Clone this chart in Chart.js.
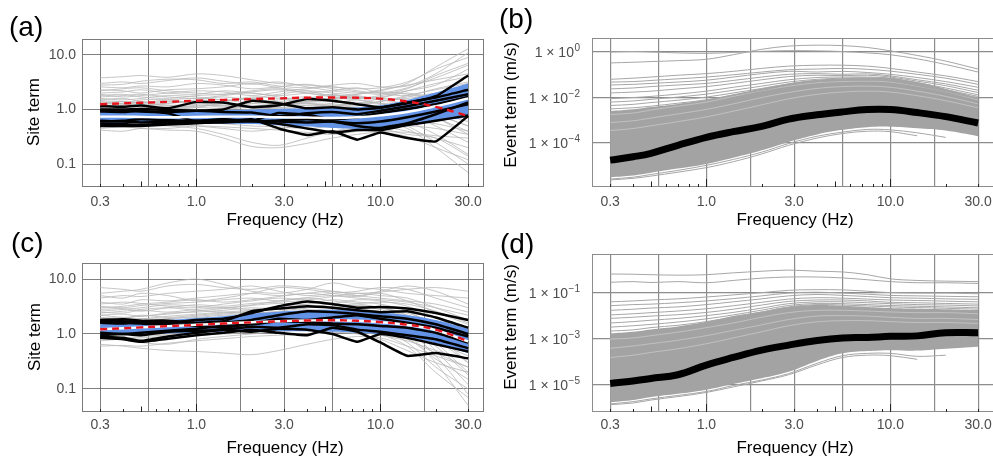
<!DOCTYPE html>
<html lang="en">
<head>
<meta charset="UTF-8">
<title>Site and event terms</title>
<script src="https://cdn.jsdelivr.net/npm/chart.js"></script>
<style>
    body {
        margin: 0;
        width: 993px;
        height: 457px;
        overflow: hidden;
        position: relative;
        background: #fff;
        font-family: 'Liberation Sans', Arial, sans-serif;
    }
    canvas { position: absolute; }
    .tag {
        position: absolute;
        font-size: 28px;
        line-height: 28px;
        color: #000;
    }
    .axt {
        position: absolute;
        font-size: 17px;
        line-height: 17px;
        color: #000;
        white-space: nowrap;
        transform: translate(-50%, -50%);
    }
    .axt.rot { transform: translate(-50%, -50%) rotate(-90deg); }
</style>
</head>
<body>
<canvas id="pa" width="500" height="228" style="left:0;top:0"></canvas>
<canvas id="pb" width="500" height="228" style="left:500px;top:0"></canvas>
<canvas id="pc" width="500" height="229" style="left:0;top:228px"></canvas>
<canvas id="pd" width="500" height="229" style="left:500px;top:228px"></canvas>

<div class="tag" style="left:9px;top:13px">(a)</div>
<div class="tag" style="left:499px;top:5px">(b)</div>
<div class="tag" style="left:11px;top:229px">(c)</div>
<div class="tag" style="left:500px;top:230px">(d)</div>

<div class="axt rot" style="left:33px;top:112px">Site term</div>
<div class="axt rot" style="left:510px;top:105px">Event term (m/s)</div>
<div class="axt rot" style="left:34px;top:337px">Site term</div>
<div class="axt rot" style="left:510px;top:327px">Event term (m/s)</div>
<div class="axt" style="left:285px;top:219px">Frequency (Hz)</div>
<div class="axt" style="left:795px;top:219px">Frequency (Hz)</div>
<div class="axt" style="left:285px;top:447px">Frequency (Hz)</div>
<div class="axt" style="left:795px;top:447px">Frequency (Hz)</div>

<script>
// frequencies (Hz) at which every curve is read
const freqs = [0.3, 0.4, 0.5, 0.7, 1.0, 1.4, 2.0, 2.8, 4.0, 5.5, 7.5, 10, 14, 20, 30];

// axis breaks
const xTickVals = [0.3, 1, 3, 10, 30];
const xTickLabels = ['0.3', '1.0', '3.0', '10.0', '30.0'];
const xGridVals = [0.3, 0.548, 1, 1.73, 3, 5.48, 10, 17.3, 30];
const logTickVals = [0.3, 0.4, 0.5, 0.6, 0.7, 0.8, 0.9, 1, 2, 3, 4, 5, 6, 7, 8, 9, 10, 20, 30];
const siteTickVals = [0.1, 1, 10];
const siteTickLabels = ['0.1', '1.0', '10.0'];
const eventTickBase = '1 × 10';
const eventB_tickVals = [-4, -2, 0];          // log10 (m/s)
const eventB_tickExp = ['−4', '−2', '0'];
const eventD_tickVals = [-5, -3, -1];
const eventD_tickExp = ['−5', '−3', '−1'];

// ---- (a) site terms ----
const siteA_grey = [
    [3.8,4.0,4.2,3.9,4.5,4.2,3.5,3.0,2.8,2.6,2.4,2.5,3.2,5.5,9.0],
    [3.0,3.2,3.0,3.4,3.8,3.3,2.9,3.2,2.6,2.2,2.0,2.2,3.0,6.0,13.0],
    [2.6,2.5,2.7,2.6,3.0,2.8,2.4,2.6,2.9,2.4,2.1,1.9,2.4,4.2,7.0],
    [2.3,2.2,2.0,2.3,2.4,2.6,3.0,2.5,2.2,1.8,1.9,2.3,2.8,3.5,4.5],
    [2.0,2.1,2.3,2.0,1.9,2.2,2.0,1.8,2.0,2.2,2.5,2.0,1.8,2.4,3.2],
    [1.8,1.9,1.7,1.6,1.8,1.9,2.2,2.4,2.0,1.7,1.6,1.8,2.2,2.8,5.5],
    [1.6,1.5,1.6,1.8,1.7,1.5,1.6,1.9,2.2,2.0,1.8,1.5,1.6,1.9,2.4],
    [1.5,1.6,1.4,1.3,1.5,1.7,1.5,1.4,1.6,1.9,1.6,1.7,2.0,1.6,1.3],
    [1.4,1.3,1.5,1.5,1.3,1.4,1.7,1.6,1.4,1.5,1.7,1.5,1.3,1.2,0.9],
    [1.3,1.4,1.2,1.3,1.4,1.2,1.3,1.5,1.7,1.4,1.3,1.4,1.8,2.3,3.0],
    [1.2,1.1,1.25,1.2,1.1,1.3,1.2,1.1,1.2,1.3,1.5,1.3,1.1,0.8,0.5],
    [1.1,1.2,1.1,1.0,1.2,1.1,1.0,1.2,1.3,1.1,1.0,1.2,1.0,0.7,0.4],
    [1.0,0.95,1.05,1.1,1.0,0.9,1.0,1.1,0.95,1.0,1.1,1.0,0.8,0.5,0.25],
    [0.9,0.92,0.85,0.9,0.95,1.0,0.9,0.85,0.9,0.95,0.85,0.8,0.6,0.35,0.15],
    [0.85,0.8,0.88,0.8,0.75,0.8,0.85,0.9,0.8,0.75,0.8,0.7,0.5,0.25,0.1],
    [0.75,0.78,0.7,0.72,0.8,0.75,0.7,0.65,0.7,0.8,0.7,0.6,0.45,0.2,0.07],
    [0.7,0.65,0.68,0.75,0.7,0.6,0.55,0.6,0.65,0.6,0.55,0.5,0.4,0.3,0.2],
    [0.6,0.62,0.6,0.55,0.5,0.45,0.4,0.45,0.5,0.55,0.5,0.45,0.35,0.3,0.14],
    [0.55,0.5,0.52,0.5,0.45,0.35,0.25,0.22,0.3,0.4,0.45,0.4,0.38,0.33,0.3],
    [0.45,0.48,0.45,0.42,0.4,0.3,0.21,0.2,0.24,0.3,0.35,0.38,0.32,0.2,0.12],
    [0.42,0.4,0.45,0.45,0.5,0.48,0.45,0.42,0.38,0.35,0.4,0.45,0.5,0.45,0.35],
    [2.8,2.9,3.3,3.6,3.5,3.0,3.2,2.7,2.5,2.8,3.0,2.6,2.7,4.5,11.0],
    [1.9,1.7,1.8,2.0,2.2,2.1,1.8,2.1,2.4,2.6,2.2,2.0,2.5,3.8,6.5],
    [1.25,1.3,1.35,1.2,1.25,1.4,1.6,1.3,1.2,1.2,1.3,1.6,2.2,3.0,4.0],
    [0.95,1.0,0.95,0.9,0.85,0.9,1.0,1.05,1.1,1.2,1.25,1.4,1.7,2.0,2.6],
    [0.65,0.7,0.75,0.7,0.65,0.7,0.75,0.8,0.85,0.9,0.95,1.0,1.2,1.5,2.0],
    [0.5,0.55,0.6,0.62,0.58,0.55,0.5,0.48,0.45,0.5,0.6,0.7,0.8,0.95,1.1],
    [1.7,1.8,1.9,1.7,1.6,1.8,2.0,1.7,1.5,1.6,1.9,2.1,1.9,1.5,1.1],
    [1.45,1.4,1.35,1.5,1.6,1.5,1.3,1.25,1.4,1.6,1.5,1.3,1.4,1.7,2.2],
    [1.15,1.2,1.3,1.4,1.3,1.15,1.1,1.2,1.3,1.2,1.1,1.05,1.2,1.1,0.7],
    [1.05,1.0,0.95,1.05,1.15,1.2,1.1,1.0,0.9,0.95,1.05,1.15,1.3,1.6,1.9],
    [0.8,0.85,0.9,0.95,0.9,0.85,0.8,0.75,0.7,0.72,0.8,0.9,0.95,0.8,0.5],
    [0.7,0.72,0.68,0.62,0.6,0.65,0.7,0.72,0.75,0.7,0.65,0.72,0.9,1.2,1.7],
    [0.62,0.58,0.55,0.58,0.65,0.7,0.62,0.55,0.52,0.5,0.48,0.52,0.6,0.55,0.4],
    [2.2,2.4,2.5,2.2,2.0,1.9,2.1,2.3,2.0,1.8,1.7,1.6,1.5,1.4,1.2],
    [1.3,1.25,1.2,1.15,1.1,1.05,1.15,1.25,1.35,1.4,1.35,1.25,1.15,0.9,0.6],
    [0.92,0.95,1.0,1.05,1.0,0.95,0.9,0.95,1.05,1.15,1.2,1.1,1.0,0.7,0.35]
];
const siteA_black = [
    [1.15,1.12,1.18,1.05,1.38,1.35,1.1,1.2,1.55,1.45,1.25,1.1,1.3,1.75,4.2],
    [1.0,0.98,0.92,0.9,0.95,1.0,1.45,1.3,1.05,1.1,1.0,1.08,1.35,1.65,2.3],
    [0.97,1.0,1.02,0.98,0.95,0.9,0.88,0.75,0.85,0.9,0.82,0.95,1.15,1.45,1.9],
    [0.62,0.6,0.58,0.6,0.62,0.65,0.62,0.55,0.45,0.38,0.42,0.42,0.52,0.62,0.78],
    [0.55,0.54,0.52,0.56,0.57,0.6,0.66,0.45,0.34,0.4,0.28,0.38,0.3,0.26,0.76],
    [0.5,0.5,0.5,0.53,0.56,0.6,0.63,0.6,0.58,0.6,0.56,0.6,0.72,0.92,1.25],
    [0.6,0.62,0.66,0.64,0.62,0.66,0.6,0.63,0.66,0.6,0.5,0.46,0.56,0.82,1.35],
    [0.92,0.9,0.95,0.85,0.6,0.58,0.62,0.86,0.8,0.66,0.72,0.86,1.02,1.25,1.7]
];
const siteA_bandLow  = [0.55,0.56,0.56,0.55,0.55,0.55,0.54,0.51,0.49,0.46,0.44,0.44,0.5,0.6,0.72];
const siteA_bandHigh = [0.98,0.97,0.96,0.95,0.96,0.98,1.0,1.02,1.05,1.07,1.1,1.2,1.5,2.05,3.0];
const siteA_median   = [0.74,0.74,0.73,0.72,0.73,0.74,0.74,0.72,0.71,0.7,0.72,0.78,0.9,1.15,1.6];
const siteA_model    = [1.25,1.3,1.33,1.38,1.45,1.5,1.55,1.6,1.65,1.66,1.64,1.58,1.4,1.12,0.76];

// ---- (c) site terms ----
const siteC_grey = [
    [7.0,6.5,6.0,7.5,8.0,7.0,6.5,7.5,7.0,6.0,5.5,5.8,6.5,7.0,6.0],
    [5.5,6.0,6.5,8.5,10.0,8.0,6.0,5.5,6.5,8.5,7.0,6.5,5.5,5.0,4.5],
    [4.5,5.0,4.8,5.5,6.0,6.5,7.5,6.0,5.0,5.5,6.0,7.0,6.5,4.5,3.0],
    [3.8,3.5,4.2,4.0,4.5,5.0,5.5,5.0,5.5,6.0,5.0,4.5,4.0,3.5,2.5],
    [3.2,3.0,3.3,3.6,3.8,4.2,4.5,4.0,4.6,5.0,4.8,5.5,4.0,2.5,1.5],
    [2.8,2.9,2.6,3.0,3.4,3.2,3.6,3.8,4.0,3.6,4.2,4.0,3.2,2.0,1.0],
    [2.5,2.4,2.7,2.5,2.8,3.0,2.8,3.2,3.5,4.2,3.8,3.5,2.6,1.3,0.5],
    [2.2,2.3,2.1,2.4,2.5,2.7,3.0,2.8,3.0,3.2,3.5,3.0,2.2,1.0,0.3],
    [2.0,1.9,2.2,2.0,2.2,2.4,2.6,3.0,2.8,2.7,3.0,2.8,1.8,0.7,0.2],
    [1.7,1.8,1.6,1.9,2.0,2.2,2.3,2.5,2.6,2.5,2.6,2.4,1.5,0.5,0.12],
    [1.5,1.6,1.5,1.6,1.8,1.9,2.0,2.2,2.3,2.2,2.4,2.0,1.2,0.4,0.08],
    [1.3,1.4,1.3,1.4,1.5,1.6,1.8,1.9,2.0,2.1,2.0,1.7,1.0,0.3,0.05],
    [1.15,1.1,1.2,1.2,1.3,1.4,1.5,1.6,1.8,1.8,1.7,1.4,0.85,0.35,0.15],
    [1.0,1.05,0.95,1.0,1.1,1.2,1.3,1.4,1.5,1.6,1.5,1.2,0.7,0.25,0.1],
    [0.9,0.85,0.9,0.95,1.0,1.05,1.15,1.2,1.3,1.4,1.3,1.0,0.6,0.2,0.07],
    [0.75,0.8,0.7,0.65,0.8,0.9,1.0,1.1,1.2,1.1,1.0,0.8,0.5,0.3,0.2],
    [0.65,0.6,0.55,0.5,0.48,0.45,0.42,0.5,0.65,0.8,0.9,0.85,0.6,0.4,0.25],
    [0.6,0.62,0.6,0.68,0.75,0.82,0.9,0.95,1.0,1.05,1.1,0.95,0.75,0.5,0.35],
    [5.0,4.5,5.5,5.0,4.0,4.5,5.5,7.0,6.5,5.5,5.0,6.0,7.5,6.0,3.5],
    [3.5,3.8,3.6,3.2,3.0,3.5,4.0,4.5,4.2,4.8,5.5,5.0,4.5,3.0,1.8],
    [2.4,2.6,2.8,3.0,2.7,2.5,2.4,2.6,3.0,3.5,3.2,3.0,2.8,2.0,1.2],
    [1.8,1.7,1.9,1.8,1.7,1.8,2.0,2.1,2.2,2.4,2.3,2.1,1.7,1.1,0.6],
    [1.4,1.45,1.5,1.55,1.6,1.5,1.6,1.7,1.6,1.7,1.8,1.6,1.3,0.9,0.5],
    [1.1,1.15,1.25,1.3,1.35,1.3,1.2,1.3,1.4,1.35,1.3,1.2,0.95,0.7,0.4],
    [2.2,2.0,1.9,2.1,2.3,2.5,2.7,2.9,3.2,3.0,2.8,2.6,2.2,1.5,0.9],
    [1.9,2.0,2.1,2.3,2.6,2.9,3.3,3.6,3.4,3.1,3.3,3.0,2.4,1.6,1.0],
    [1.6,1.7,1.8,1.9,2.1,2.3,2.5,2.4,2.2,2.4,2.6,2.4,2.0,1.4,0.8],
    [1.35,1.3,1.4,1.5,1.7,1.8,2.0,2.3,2.5,2.3,2.1,1.9,1.6,1.0,0.45],
    [1.2,1.25,1.3,1.35,1.45,1.6,1.7,1.8,1.9,2.0,1.9,1.8,1.4,0.8,0.3],
    [1.05,1.1,1.15,1.2,1.25,1.35,1.45,1.5,1.6,1.7,1.6,1.5,1.2,0.6,0.18],
    [2.6,2.8,3.0,3.4,3.2,3.0,3.4,4.0,4.5,4.0,3.6,3.8,3.5,2.6,1.6],
    [3.0,3.2,3.5,3.8,4.2,3.8,4.2,4.8,5.5,5.0,4.5,4.2,3.8,3.0,2.2],
    [0.8,0.82,0.85,0.9,0.95,1.0,1.05,1.15,1.25,1.3,1.25,1.1,0.8,0.45,0.25],
    [1.45,1.5,1.6,1.65,1.8,2.0,2.2,2.0,1.9,2.1,2.3,2.2,1.8,1.2,0.65]
];
const siteC_black = [
    [1.8,1.85,1.75,1.6,1.8,1.9,2.4,3.2,3.9,3.5,3.0,3.1,2.9,2.4,1.8],
    [1.6,1.55,1.7,1.75,1.6,1.7,2.6,2.9,3.2,3.0,2.7,2.5,2.6,2.0,1.3],
    [1.65,1.6,1.55,1.45,1.5,1.6,1.8,2.2,2.6,2.5,2.3,2.1,1.9,1.5,1.0],
    [0.95,1.0,1.05,1.15,1.25,1.4,1.5,1.7,1.65,1.55,1.5,1.4,1.3,1.05,0.7],
    [1.05,1.0,0.95,1.1,1.15,1.2,1.35,1.3,1.5,1.45,1.2,1.1,0.95,0.8,0.55],
    [0.9,0.85,0.75,0.9,1.05,1.2,1.1,1.25,1.2,1.0,0.72,1.0,0.85,0.65,0.48],
    [0.85,0.8,0.72,0.82,0.95,1.05,1.2,1.05,0.95,1.3,1.1,0.7,0.4,0.45,0.36],
    [1.75,1.7,1.65,1.55,1.4,1.3,1.55,1.9,1.8,2.0,2.2,1.9,1.6,1.3,0.9]
];
const siteC_bandLow  = [0.95,0.98,1.0,1.02,1.05,1.1,1.12,1.12,1.12,1.1,1.05,0.98,0.85,0.68,0.45];
const siteC_bandHigh = [1.6,1.65,1.7,1.8,1.95,2.1,2.35,2.55,2.7,2.75,2.7,2.5,2.2,1.8,1.25];
const siteC_median   = [1.22,1.27,1.32,1.39,1.47,1.56,1.64,1.71,1.76,1.78,1.74,1.64,1.46,1.18,0.73];
const siteC_model    = [1.22,1.27,1.32,1.39,1.46,1.55,1.63,1.7,1.76,1.78,1.74,1.65,1.48,1.2,0.74];

// ---- (b) event terms, log10 (m/s) ----
const eventB_median = [-4.75,-4.6,-4.45,-4.1,-3.75,-3.5,-3.27,-2.95,-2.76,-2.63,-2.53,-2.53,-2.66,-2.84,-3.12];
const eventB_low    = [-5.5,-5.42,-5.3,-5.12,-4.92,-4.65,-4.32,-3.95,-3.62,-3.42,-3.3,-3.28,-3.35,-3.45,-3.7];
const eventB_high   = [-2.6,-2.52,-2.42,-2.28,-2.1,-1.86,-1.6,-1.38,-1.22,-1.15,-1.12,-1.14,-1.32,-1.62,-2.02];
const eventB_upper = [
    [-0.48,-0.45,-0.42,-0.38,-0.32,-0.12,0.12,0.26,0.3,0.28,0.2,0.05,-0.15,-0.4,-0.75],
    [0.0,0.02,0.0,-0.04,-0.06,-0.02,0.03,0.06,0.05,0.02,-0.04,-0.12,-0.3,-0.55,-0.88],
    [-1.2,-1.15,-1.1,-1.02,-0.95,-0.85,-0.72,-0.62,-0.58,-0.58,-0.62,-0.72,-0.88,-1.05,-1.3],
    [-1.32,-1.3,-1.25,-1.18,-1.1,-1.0,-0.88,-0.78,-0.75,-0.72,-0.76,-0.84,-0.98,-1.15,-1.42],
    [-1.45,-1.42,-1.38,-1.32,-1.24,-1.1,-0.95,-0.85,-0.88,-0.85,-0.9,-0.98,-1.12,-1.3,-1.55],
    [-1.62,-1.58,-1.52,-1.45,-1.38,-1.25,-1.1,-0.98,-0.95,-0.98,-0.96,-1.05,-1.22,-1.4,-1.68],
    [-1.8,-1.76,-1.72,-1.62,-1.52,-1.38,-1.22,-1.08,-1.02,-1.04,-1.02,-1.1,-1.28,-1.48,-1.78],
    [-2.05,-2.0,-1.95,-1.85,-1.72,-1.55,-1.38,-1.22,-1.12,-1.1,-1.1,-1.15,-1.35,-1.58,-1.88],
    [-2.2,-2.15,-2.08,-1.98,-1.85,-1.68,-1.5,-1.32,-1.2,-1.15,-1.14,-1.2,-1.4,-1.65,-1.95],
    [-2.35,-2.3,-2.22,-2.12,-1.98,-1.8,-1.6,-1.4,-1.25,-1.2,-1.18,-1.25,-1.45,-1.7,-2.0],
    [-2.5,-2.45,-2.38,-2.25,-2.1,-1.9,-1.68,-1.45,-1.3,-1.25,-1.22,-1.28,-1.48,-1.75,-2.05]
];
const eventB_lower = [
    [-5.62,-5.55,-5.45,-5.28,-5.08,-4.82,-4.48,-4.1,-3.78,-3.58,-3.48,-3.5,-3.68,null,null],
    [-5.58,-5.5,-5.38,-5.2,-4.98,-4.72,-4.4,-4.02,-3.7,-3.52,-3.4,-3.42,-3.55,-3.75,null]
];
const eventB_streaks = [
    [-2.75,-2.68,-2.55,-2.38,-2.2,-1.95,-1.7,-1.5,-1.35,-1.3,-1.28,-1.32,-1.5,-1.75,-2.1],
    [-3.1,-3.02,-2.9,-2.72,-2.52,-2.28,-2.0,-1.78,-1.6,-1.52,-1.5,-1.55,-1.72,-1.95,-2.28],
    [-3.45,-3.36,-3.24,-3.06,-2.85,-2.6,-2.32,-2.06,-1.86,-1.76,-1.72,-1.76,-1.92,-2.14,-2.45]
];

// ---- (d) event terms, log10 (m/s) ----
const eventD_median = [-4.93,-4.82,-4.71,-4.55,-4.13,-3.8,-3.48,-3.26,-3.06,-2.95,-2.93,-2.88,-2.86,-2.72,-2.72];
const eventD_low    = [-5.75,-5.65,-5.52,-5.38,-5.2,-4.95,-4.7,-4.42,-3.95,-3.62,-3.52,-3.48,-3.5,-3.42,-3.33];
const eventD_high   = [-2.75,-2.68,-2.58,-2.45,-2.25,-2.0,-1.8,-1.6,-1.52,-1.55,-1.6,-1.65,-1.68,-1.7,-1.74];
const eventD_upper = [
    [-0.17,-0.18,-0.2,-0.22,-0.2,-0.12,-0.05,0.0,-0.05,-0.08,-0.2,-0.38,-0.45,-0.48,-0.5],
    [-0.53,-0.5,-0.54,-0.5,-0.55,-0.45,-0.35,-0.3,-0.3,-0.34,-0.42,-0.5,-0.55,-0.55,-0.58],
    [-1.38,-1.34,-1.3,-1.25,-1.17,-1.08,-0.98,-0.88,-0.85,-0.86,-0.92,-0.98,-1.0,-1.0,-1.03],
    [-1.55,-1.5,-1.48,-1.42,-1.34,-1.24,-1.12,-1.0,-0.96,-1.0,-1.05,-1.1,-1.12,-1.14,-1.16],
    [-1.75,-1.7,-1.65,-1.6,-1.5,-1.38,-1.25,-1.12,-1.06,-1.1,-1.15,-1.2,-1.22,-1.25,-1.27],
    [-1.95,-1.9,-1.85,-1.78,-1.68,-1.55,-1.4,-1.26,-1.2,-1.22,-1.26,-1.3,-1.32,-1.35,-1.38],
    [-2.1,-2.05,-2.0,-1.94,-1.84,-1.7,-1.52,-1.36,-1.3,-1.3,-1.34,-1.4,-1.42,-1.45,-1.48],
    [-2.3,-2.24,-2.18,-2.1,-1.98,-1.84,-1.65,-1.46,-1.38,-1.38,-1.42,-1.46,-1.5,-1.52,-1.56],
    [-2.48,-2.42,-2.36,-2.26,-2.12,-1.95,-1.74,-1.54,-1.45,-1.46,-1.5,-1.54,-1.57,-1.6,-1.64],
    [-2.65,-2.6,-2.5,-2.4,-2.24,-2.04,-1.82,-1.6,-1.5,-1.52,-1.56,-1.6,-1.63,-1.66,-1.7]
];
const eventD_lower = [
    [-5.85,-5.78,-5.65,-5.5,-5.32,-5.08,-4.82,-4.55,-4.12,-3.8,-3.7,-3.72,-3.88,null,null],
    [-5.82,-5.72,-5.6,-5.45,-5.28,-5.02,-4.78,-4.5,-4.05,-3.72,-3.62,-3.62,-3.75,-3.7,null]
];
const eventD_streaks = [
    [-3.0,-2.95,-2.85,-2.7,-2.5,-2.3,-2.05,-1.85,-1.75,-1.75,-1.78,-1.82,-1.85,-1.85,-1.9],
    [-3.4,-3.3,-3.2,-3.05,-2.85,-2.62,-2.38,-2.15,-2.0,-1.98,-2.0,-2.05,-2.1,-2.1,-2.15],
    [-3.8,-3.7,-3.58,-3.42,-3.2,-2.95,-2.68,-2.42,-2.25,-2.2,-2.2,-2.24,-2.28,-2.28,-2.32]
];

const FONT = "'Liberation Sans', Arial, sans-serif";
const BLUE = '#6393e6';
const TICK_GREY = '#4d4d4d';

function curve(vals, color, width, extra) {
    return Object.assign({
        data: freqs.map((f, i) => ({ x: f, y: vals[i] })),
        borderColor: color,
        borderWidth: width,
        pointRadius: 0,
        tension: 0.3,
        fill: false
    }, extra || {});
}

// drawn later = on top
function stack(list) {
    list.forEach((d, i) => d.order = list.length - i);
    return list;
}

// panel frame + log ticks along the bottom edge
const frame = {
    id: 'frame',
    afterDraw(chart, args, opts) {
        const { ctx, chartArea: a, scales: { x } } = chart;
        ctx.save();
        ctx.strokeStyle = opts.color;
        ctx.lineWidth = 1;
        ctx.strokeRect(a.left + 0.5, a.top + 0.5, a.width - 1, a.height - 1);
        ctx.strokeStyle = '#222';
        logTickVals.forEach(v => {
            const m = v / Math.pow(10, Math.floor(Math.log10(v) + 1e-9));
            const len = Math.abs(m - 1) < 1e-6 ? 8 : (Math.abs(m - 5) < 1e-6 ? 5.5 : 3);
            const px = Math.round(x.getPixelForValue(v)) + 0.5;
            ctx.beginPath();
            ctx.moveTo(px, a.bottom);
            ctx.lineTo(px, a.bottom - len);
            ctx.stroke();
        });
        ctx.restore();
    }
};

// "1 × 10^k" labels with a raised exponent, placed through the y scale
const expLabels = {
    id: 'expLabels',
    afterDraw(chart, args, opts) {
        if (!opts.vals) return;
        const { ctx, chartArea: a, scales: { y } } = chart;
        ctx.save();
        ctx.fillStyle = TICK_GREY;
        ctx.textBaseline = 'alphabetic';
        ctx.textAlign = 'right';
        opts.vals.forEach((v, i) => {
            const py = y.getPixelForValue(v);
            const right = a.left - opts.pad;
            ctx.font = '10px ' + FONT;
            const ew = ctx.measureText(opts.exps[i]).width;
            ctx.fillText(opts.exps[i], right, py - 1);
            ctx.font = '14px ' + FONT;
            ctx.fillText(eventTickBase, right - ew - 0.5, py + 5);
        });
        ctx.restore();
    }
};

function makePanel(id, p) {
    return new Chart(document.getElementById(id), {
        type: 'line',
        data: { datasets: p.datasets },
        options: {
            responsive: false,
            animation: false,
            devicePixelRatio: 1,
            layout: { padding: p.pad },
            plugins: {
                legend: { display: false },
                tooltip: { enabled: false },
                frame: { color: p.frameColor },
                expLabels: { vals: p.expVals, exps: p.exps, pad: p.yPad }
            },
            scales: {
                x: {
                    type: 'logarithmic',
                    min: 0.239, max: 36.6,
                    afterBuildTicks: s => { s.ticks = xGridVals.map(v => ({ value: v })); },
                    afterFit: s => { s.height = p.xHeight; },
                    border: { display: false },
                    grid: { color: p.gridColor, lineWidth: p.gridWidth, drawTicks: false },
                    ticks: {
                        autoSkip: false, maxRotation: 0, padding: p.xPad,
                        color: TICK_GREY, font: { family: FONT, size: 14 },
                        callback: v => {
                            const k = xTickVals.findIndex(t => Math.abs(t - v) < 1e-6);
                            return k < 0 ? '' : xTickLabels[k];
                        }
                    }
                },
                y: {
                    type: p.yType,
                    min: p.yMin, max: p.yMax,
                    afterBuildTicks: s => { s.ticks = p.yTicks.map(v => ({ value: v })); },
                    afterFit: s => { s.width = p.yWidth; },
                    border: { display: false },
                    grid: { color: p.gridColor, lineWidth: p.gridWidth, drawTicks: false },
                    ticks: {
                        padding: p.yPad,
                        color: TICK_GREY, font: { family: FONT, size: 14 },
                        callback: v => {
                            if (!p.yLabels) return '';
                            const k = p.yTicks.findIndex(t => Math.abs(t - v) < 1e-6);
                            return k < 0 ? '' : p.yLabels[k];
                        }
                    }
                }
            }
        },
        plugins: [frame, expLabels]
    });
}

function siteSets(grey, low, high, black, median, model) {
    const list = [];
    grey.forEach(v => list.push(curve(v, '#b8b8b8', 0.8)));
    list.push(curve(low, 'rgba(0,0,0,0)', 0, { tension: 0.4 }));
    list.push(curve(high, 'rgba(0,0,0,0)', 0, { tension: 0.4, fill: '-1', backgroundColor: BLUE }));
    black.forEach(v => list.push(curve(v, '#000', 2.5, { tension: 0.12 })));
    list.push(curve(median, '#fff', 2.4, { tension: 0.4 }));
    list.push(curve(model, '#e8141c', 2.4, { tension: 0.4, borderDash: [7, 5] }));
    return stack(list);
}

function eventSets(low, high, upper, lower, streaks, median) {
    const list = [];
    list.push(curve(low, 'rgba(0,0,0,0)', 0, { tension: 0.4 }));
    list.push(curve(high, 'rgba(0,0,0,0)', 0, { tension: 0.4, fill: '-1', backgroundColor: '#a3a3a3' }));
    streaks.forEach(v => list.push(curve(v, 'rgba(255,255,255,0.4)', 0.8, { tension: 0.4 })));
    upper.forEach(v => list.push(curve(v, '#a6a6a6', 1, { tension: 0.35 })));
    lower.forEach(v => list.push(curve(v, '#a6a6a6', 1, { tension: 0.35 })));
    list.push(curve(median, '#000', 7, { tension: 0.4 }));
    return stack(list);
}

const sitePanel = {
    yType: 'logarithmic', yMin: 0.038, yMax: 19.6,
    yTicks: siteTickVals, yLabels: siteTickLabels,
    yWidth: 82, yPad: 6,
    gridColor: '#5e5e5e', gridWidth: 0.8, frameColor: '#7a7a7a'
};

makePanel('pa', Object.assign({}, sitePanel, {
    datasets: siteSets(siteA_grey, siteA_bandLow, siteA_bandHigh, siteA_black, siteA_median, siteA_model),
    pad: { left: 0, right: 16, top: 39, bottom: 0 },
    xHeight: 41, xPad: 7
}));

makePanel('pc', Object.assign({}, sitePanel, {
    datasets: siteSets(siteC_grey, siteC_bandLow, siteC_bandHigh, siteC_black, siteC_median, siteC_model),
    pad: { left: 0, right: 16, top: 35, bottom: 0 },
    xHeight: 45, xPad: 5
}));

makePanel('pb', {
    datasets: eventSets(eventB_low, eventB_high, eventB_upper, eventB_lower, eventB_streaks, eventB_median),
    yType: 'linear', yMin: -5.93, yMax: 0.615,
    yTicks: eventB_tickVals, expVals: eventB_tickVals, exps: eventB_tickExp,
    yWidth: 92, yPad: 12,
    gridColor: '#8c8c8c', gridWidth: 1.2, frameColor: '#8c8c8c',
    pad: { left: 0, right: 6, top: 38, bottom: 0 },
    xHeight: 41, xPad: 7
});

makePanel('pd', {
    datasets: eventSets(eventD_low, eventD_high, eventD_upper, eventD_lower, eventD_streaks, eventD_median),
    yType: 'linear', yMin: -6.17, yMax: 0.70,
    yTicks: eventD_tickVals, expVals: eventD_tickVals, exps: eventD_tickExp,
    yWidth: 92, yPad: 12,
    gridColor: '#8c8c8c', gridWidth: 1.2, frameColor: '#8c8c8c',
    pad: { left: 0, right: 6, top: 26, bottom: 0 },
    xHeight: 45, xPad: 5
});
</script>
</body>
</html>
